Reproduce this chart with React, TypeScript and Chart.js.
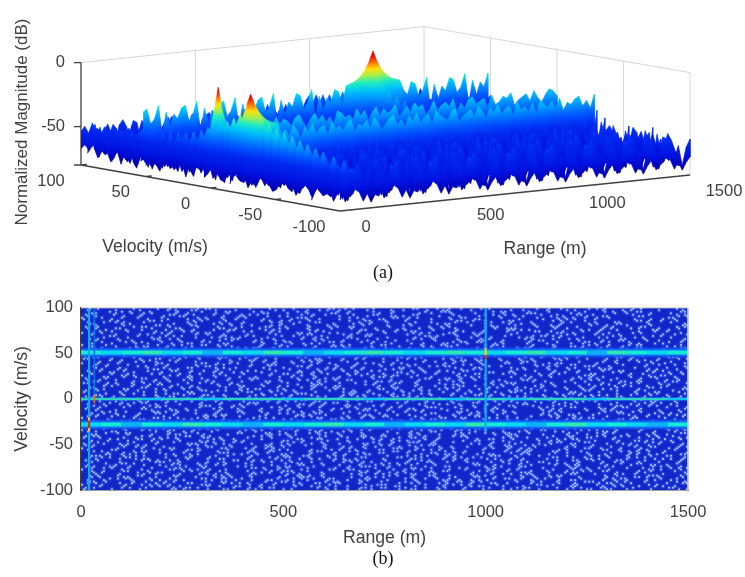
import React, { useEffect, useRef } from "react";
import { Chart, registerables } from "chart.js";

Chart.register(...registerables);

// ---------- (a) surface: values ----------
const rangeTicks = [0, 500, 1000, 1500];
const velocityTicks = [100, 50, 0, -50, -100];
const magnitudeTicks = [0, -50, -80];

const rowVelocity = [100, 95, 90, 85, 80, 75, 70, 65, 60, 56, 54, 52, 50, 48, 45, 40, 34, 28, 22, 16, 10, 5, 2, 0, -2, -5, -10, -15, -20, -24, -26, -28, -30, -32, -36, -42, -48, -54, -60, -66, -72, -78, -84, -92, -100];
const rowLevel = [-48, -48, -48, -48, -48, -48, -48, -48, -47, -45, -37, -26, -37, -45, -47, -47, -48, -48, -48, -48, -48, -47, -45, -30, -45, -47, -48, -48, -47, -47, -40, -30, -40, -47, -47, -48, -48, -48, -48, -48, -48, -48, -48, -48, -48];
const peakAtR1000 = [-44, -43, -42, -41, -39, -37, -35, -33, -29, -20, -12, -1, -12, -20, -26, -30, -33, -36, -38, -40, -43, -45, -46, -46, -47, -48, -50, -52, -54, -56, -58, -58, -60, -100, -100, -100, -100, -100, -100, -100, -100, -100, -100, -100, -100];
const peakAtR17 = [-50, -50, -50, -50, -50, -50, -50, -50, -50, -46, -43, -34, -43, -46, -45, -44, -43, -42, -41, -39, -37, -34, -32, -30, -30, -29, -26, -23, -19, -15, -10, -2, -10, -14, -18, -22, -25, -27, -29, -31, -33, -35, -37, -39, -41];
const peakAtR33 = [-100, -100, -100, -100, -100, -100, -100, -100, -100, -100, -100, -100, -100, -100, -100, -100, -100, -100, -100, -100, -44, -38, -28, -2, -28, -40, -100, -100, -100, -100, -100, -100, -100, -100, -100, -100, -100, -100, -100, -100, -100, -100, -100, -100, -100];
const wideSkirtDrop = [0, 8, 14, 18, 21, 23, 24, 25];
const narrowSkirtDrop = [0, 18, 30];
const topDrop = [0, 2, 4, 6, 8, 10, 12, 15, 18, 24];

// Hand-typed noise estimate, one digit per range sample (spacing 1500/90 m).
const surfaceNoise = [
  "3140627158203946172805316492710583926147035829164073582916403725819460372581946037215894603",
  "5208314769250183746295018372964105837296410583729164058372916405837261940528371649205837164",
  "1736402958163047295816304729581630472958163047195826304719582630471958263047195826304719582",
  "4029173685402917368540291736854029173685412907368451290736845129073684512907368451290736845",
  "2851604937285160493728516049372851604937285160493721850649372185064937218506493721850649372",
  "6193027485619302748561930274856193027485169302748516930274851693027485169302748516930274851",
  "0472916358047291635804729163580472916358074291635807429163580742916358074291635807429163580",
  "3718250694371825069437182506943718250694317825069431782506943178250694317825069431782506943",
  "5920471836592047183659204718365920471836952047183695204718369520471836952047183695204718369",
  "1264083957126408395712640839571264083957216408395721640839572164083957216408395721640839572",
  "4381726059438172605943817260594381726059348172605934817260593481726059348172605934817260593",
  "2175093846217509384621750938462175093846127509384612750938461275093846127509384612750938461",
  "6402817395640281739564028173956402817395460281739546028173954602817395460281739546028173954",
  "0839264715083926471508392647150839264715803926471580392647158039264715803926471580392647158",
  "3591704268359170426835917042683591704268539170426853917042685391704268539170426853917042685",
  "7124860359712486035971248603597124860359172486035917248603591724860359172486035917248603591",
  "2648019375264801937526480193752648019375624801937562480193756248019375624801937562480193756",
  "5073182946507318294650731829465073182946057318294605731829460573182946057318294605731829460",
  "1926470538192647053819264705381926470538912647053891264705389126470538912647053891264705389",
  "4805237169480523716948052371694805237169840523716984052371698405237169840523716984052371698",
  "3160948275316094827531609482753160948275136094827513609482751360948275136094827513609482751",
  "7529016384752901638475290163847529016384572901638457290163845729016384572901638457290163845",
  "0247385196024738519602473851960247385196204738519620473851962047385196204738519620473851962",
  "2413052134021352403124103520314250132403152041320531402153042130524103215043120532140352013",
  "6381492057638149205763814920576381492057368149205736814920573681492057368149205736814920573",
  "1790253864179025386417902538641790253864719025386471902538647190253864719025386471902538647",
  "4052761938405276193840527619384052761938045276193804527619380452761938045276193804527619380",
  "8213069475821306947582130694758213069475281306947528130694752813069475281306947528130694752",
  "3674925018367492501836749250183674925018637492501863749250186374925018637492501863749250186",
  "0518347296051834729605183472960518347296501834729650183472965018347296501834729650183472965",
  "2940516837294051683729405168372940516837924051683792405168379240516837924051683792405168379",
  "1302415023140251304215032410523140253104251304215023410532140251304215032415023140523104250",
  "7163840259716384025971638402597163840259176384025917638402591763840259176384025917638402591",
  "3825071946382507194638250719463825071946832507194683250719468325071946832507194683250719468",
  "6047219358604721935860472193586047219358064721935806472193580647219358064721935806472193580",
  "2591738064259173806425917380642591738064529173806452917380645291738064529173806452917380645",
  "8730462915873046291587304629158730462915783046291578304629157830462915783046291578304629157",
  "4168203759416820375941682037594168203759146820375914682037591468203759146820375914682037591",
  "0396527481039652748103965274810396527481309652748130965274813096527481309652748130965274813",
  "5724916038572491603857249160385724916038752491603875249160387524916038752491603875249160387",
  "2085374169208537416920853741692085374169028537416902853741690285374169028537416902853741690",
  "9413680527941368052794136805279413680527491368052749136805274913680527491368052749136805274",
  "3657209184365720918436572091843657209184635720918463572091846357209184635720918463572091846",
  "1842965037184296503718429650371842965037814296503781429650378142965037814296503781429650378",
  "6270138495627013849562701384956270138495267013849526701384952670138495267013849526701384952",
];

const magnitudeColors: [number, string][] = [
  [-80, "#000068"], [-72, "#0000b8"], [-62, "#0014e4"], [-52, "#0028f0"], [-45, "#0050ff"],
  [-38, "#0088ff"], [-31, "#00c4f8"], [-25, "#20ecc0"], [-20, "#a0f050"], [-15, "#ffe010"], [-10, "#ff7000"], [-5, "#e01000"], [0, "#c00000"],
];

// ---------- (b) heat map ----------
const heatRangeTicks = [0, 500, 1000, 1500];
const bandSamples = [0, 50, 100, 150, 200, 250, 300, 350, 400, 450, 500, 550, 600, 650, 700, 750, 800, 850, 900, 950, 1000, 1050, 1100, 1150, 1200, 1250, 1300, 1350, 1400, 1450, 1500];
const band52Tone = [1, 0, 1, 2, 0, 1, 4, 1, 0, 2, 1, 4, 0, 1, 2, 1, 0, 1, 2, 1, 0, 1, 2, 0, 1, 4, 2, 1, 0, 1, 2];
const bandM28Tone = [0, 1, 4, 1, 0, 2, 1, 0, 4, 1, 0, 1, 2, 0, 1, 4, 0, 1, 0, 2, 1, 0, 4, 1, 2, 0, 1, 0, 4, 1, 0];
const band0Tone = [2, 2, 2, 0, 2, 2, 0, 2, 2, 2, 0, 2, 2, 2, 0, 2, 2, 2, 0, 2, 2, 0, 2, 2, 2, 0, 2, 2, 2, 0, 2];
const stripeV = [100, 60, 56, 48, 44, 5, -20, -24, -32, -36, -100];
const stripe1000Tone = [0, 0, 3, 4, 0, 0, 0, 0, 0];
const stripe20Tone = [0, 0, 0, 0, 0, 0, 3, 4, 3, 0];
const stripeColors = ["#12a8ee", "#12a8ee", "#30e0c0", "#e8d020", "#d03010"];
const bandColors = ["#08d8f0", "#14ecd4", "#30e8b0", "#b0e850", "#10b0f8"];

// Hand-typed speck mask: each hex digit is four cells of the noise field.
const speckRows = [
  "4102840a1048020c4120812905004218a04102",
  "0841201403820410902404c10860120482910c",
  "a0180c4120510842016081020a41880310440a",
  "1244010a88200c10820c4109102048a4210081",
  "08206105010a41208811200c42810414008522",
  "c0410880a2104208051040a1028420182c0408",
  "210a1402401c8024910208410a104c0182030a",
  "04880221260410a00c4820140285100a440890",
  "9200450a10080c2412018a0341020890214104",
  "08140a2081a0420188100c248040a5100a0820",
  "4120c4100d0218410240821405082441081208",
  "028a01241082810c2421000a9120180c412084",
  "1400882c41024018a08102c40a10240821a104",
  "8205124008a11040c8214010820a140248810c",
  "20c04081a20c0214891402a004c0881024120a",
  "0412a4100810a8240c2101844120048a100421",
  "a1020842c12104140a08520c010884210c4083",
  "0848241002c408a12008040a9124201084a210",
  "1120810c4a0012840a24108201c40a10240848",
  "8404120a10480c20118048a104204a0c110208",
  "02a0c4104208018a24051208410a0248c10412",
  "48120180a4120c41020894220c8104210a0884",
  "10c2049021080a40842d01041208820c102460",
  "2408128402c1044a10200c894204108a240112",
  "810a4408201c408208c2110a08402124089143",
  "0422a1104a0204c1082401860a2184084110a0",
  "c00814a20110284a104c0282041a8022140c28",
  "2184020c4118a20401109a042086410c048201",
  "04420a9108024c1081244a02112808c2048418",
  "a2108c04214001822a0c4108048a01241c0284",
  "10c40128420a88104201840c2a410208a14110",
  "084a120480c1204a10082412c00a8421040a22",
  "8401a20c14108421c0a01408428124200c8412",
  "21081440a80241082a12c0480a108414c20108",
  "0a80c21048120a418004220c8a4102108c4124",
  "41240808a1040c2208194402a0108ac010248a",
  "1002c41a00841081a42002c81412088a10c040",
  "884120048a210c40210812c4048a012024080c",
  "024a08a10c420180480c2a10418208c4111204",
  "c410200a49020c1088a104021c8402a0148420",
  "10882c0140a2042184100a4c2208810a24018a",
  "04a10442081c80a2140841082ac01041a2080c",
  "a10820c4108a01022c81440a108204c0a82411",
  "082c4110a4020c8112a404208c0148a1020844",
  "4102880c24104a018024c11208840a1c040a21",
  "a0c4108a020c411208824a1004c8218010a404",
  "10284c0281a41002a80c11420a84102c480182",
  "820a104240c810a1820c4082104a1c0208a440",
  "0c410a820411c0284a1002a18c04120880a41c",
  "4a8102c01048a1240c08128a41020c8401a208",
  "2108a4100c824108c2014a0210a408811c0204",
  "04c2081a41208c01048a2110c0840a21488102",
  "a811024c0820a1408c1204810a2c00418208a4",
  "10480ca21104280c8104a2011c82048a010c24",
  "8204a10c018a42010c4a2810480c12a1048208",
  "412c0810a2408c21040a8811c2042a10840c14",
  "08a1240c81102a4c0810a42108c441028a1022",
  "c4021a088104c20a1480218c4102a80c14120a",
  "1288a40c10421a0408c1048a2010c4812a0410",
  "a04118c2044a10820c8124a0140a1882c04081",
];

const FONT = "'Liberation Sans', Arial, sans-serif";
const TEXT = "#404040";

function project(r: number, v: number, z: number) {
  const u = r / 1500;
  const w = (100 - v) / 200;
  return { x: 81 + 259 * w + (343 + 7 * w) * u, y: 165 + 46 * w - 36 * u - (z + 80) * 1.28 };
}

function surfaceColumn(i: number, j: number) {
  const row = surfaceNoise[i];
  const d = Number(row[j % row.length]);
  let top = rowLevel[i] - topDrop[d];
  const hill = (peak: number, col: number, drops: number[]) => {
    const k = Math.abs(j - col);
    if (peak > -100 && k < drops.length) top = Math.max(top, peak - drops[k]);
  };
  hill(peakAtR1000[i], 60, wideSkirtDrop);
  hill(peakAtR17[i], 1, wideSkirtDrop);
  hill(peakAtR33[i], 2, narrowSkirtDrop);
  return { top, low: Math.min(top - 3, -63 - d * 1.4) };
}

function rowGradient(ctx: CanvasRenderingContext2D, v: number) {
  const a = project(0, v, -80);
  const far = project(1500, v, -80);
  const m = (far.y - a.y) / (far.x - a.x);
  const nl = Math.sqrt(1 + m * m);
  const nx = -m / nl;
  const ny = 1 / nl;
  const rise = -1.28 * 80 * ny;
  const g = ctx.createLinearGradient(a.x, a.y, a.x + nx * rise, a.y + ny * rise);
  magnitudeColors.forEach(([z, c]) => g.addColorStop((z + 80) / 80, c));
  return g;
}

const lineSet = (data: any[], color: any, width: number, extra: any = {}) => ({
  data, borderColor: color, borderWidth: width, showLine: true, pointRadius: 0, fill: false, tension: 0, ...extra,
});

function buildSurfaceChart(canvas: HTMLCanvasElement) {
  const ctx = canvas.getContext("2d")!;
  const paint: any[] = [];
  const walls: any[] = [];
  const seg = (a: any, b: any, list: any[]) => list.push(a, b, { x: NaN, y: NaN });
  seg(project(0, 100, 0), project(1500, 100, 0), walls);
  seg(project(1500, 100, 0), project(1500, -100, 0), walls);
  rangeTicks.slice(1).forEach((r) => seg(project(r, 100, -80), project(r, 100, 0), walls));
  velocityTicks.slice(1).forEach((v) => seg(project(1500, v, -80), project(1500, v, 0), walls));
  paint.push(lineSet(walls, "#d6d6d6", 1));

  const axes: any[] = [];
  seg(project(0, 100, 0), project(0, 100, -80), axes);
  seg(project(0, 100, -80), project(0, -100, -80), axes);
  seg(project(0, -100, -80), project(1500, -100, -80), axes);
  magnitudeTicks.forEach((z) => {
    const p = project(0, 100, z);
    seg(p, { x: p.x - 7, y: p.y }, axes);
  });
  velocityTicks.forEach((v) => seg(project(0, v, -80), project(26, v, -80), axes));
  rangeTicks.forEach((r) => seg(project(r, -100, -80), project(r, -88, -80), axes));
  paint.push(lineSet(axes, TEXT, 1.3));

  rowVelocity.forEach((v, i) => {
    const top: any[] = [];
    const low: any[] = [];
    for (let j = 0; j <= 90; j++) {
      const r = (j * 1500) / 90;
      const c = surfaceColumn(i, j);
      top.push(project(r, v, c.top));
      low.unshift(project(r, v, c.low));
    }
    const g = rowGradient(ctx, v);
    paint.push(lineSet(top.concat(low), g, 0.7, { backgroundColor: g, fill: "shape" }));
  });

  const labels = {
    id: "surfaceLabels",
    afterDraw(chart: any) {
      const c = chart.ctx;
      const sx = chart.scales.x;
      const sy = chart.scales.y;
      const put = (t: string, x: number, y: number) => c.fillText(t, sx.getPixelForValue(x), sy.getPixelForValue(y));
      c.save();
      c.fillStyle = TEXT;
      c.font = `16.5px ${FONT}`;
      c.textBaseline = "middle";
      c.textAlign = "right";
      magnitudeTicks.slice(0, 2).forEach((z) => {
        const p = project(0, 100, z);
        put(String(z), p.x - 16, p.y);
      });
      c.textAlign = "center";
      velocityTicks.forEach((v) => {
        const p = project(0, v, -80);
        put(String(v), p.x + (v === -100 ? -31 : v === 100 ? -30 : -25), p.y + 16);
      });
      rangeTicks.forEach((r) => {
        const p = project(r, -100, -80);
        put(String(r), p.x + (r === 0 ? 26 : 34), p.y + 16);
      });
      c.font = `17.6px ${FONT}`;
      put("Velocity (m/s)", 155, 247);
      put("Range (m)", 545, 249);
      c.font = `17px ${FONT}`;
      c.translate(sx.getPixelForValue(22), sy.getPixelForValue(122));
      c.rotate(-Math.PI / 2);
      c.fillText("Normalized Magnitude (dB)", 0, 0);
      c.restore();
    },
  };

  return new Chart(canvas, {
    type: "scatter",
    data: { datasets: paint.reverse() },
    options: {
      responsive: false,
      animation: false,
      events: [],
      parsing: false as any,
      plugins: { legend: { display: false }, tooltip: { enabled: false } },
      layout: { padding: 0 },
      scales: {
        x: { type: "linear", display: false, min: 0, max: 745 },
        y: { type: "linear", display: false, min: 0, max: 290, reverse: true },
      },
    },
    plugins: [labels],
  } as any);
}

function buildHeatChart(canvas: HTMLCanvasElement) {
  const specks: { x: number; y: number }[] = [];
  const addSpecks = (row: string, i: number, shift: number) => {
    for (let h = 0; h < row.length; h++) {
      const bits = parseInt(row[h], 16);
      for (let b = 0; b < 4; b++) {
        if (bits & (1 << b)) {
          specks.push({
            x: ((h * 4 + b + shift) / (row.length * 4)) * 1500,
            y: 100 - ((i + shift) / speckRows.length) * 200,
          });
        }
      }
    }
  };
  speckRows.forEach((row, i) => {
    addSpecks(row, i, 0.25);
    addSpecks(row.split("").reverse().join(""), i, 0.75);
  });
  const toned = (tone: number[], colors: string[]) => ({
    segment: { borderColor: (c: any) => colors[tone[c.p0DataIndex] ?? 0] },
  });
  const horizontal = (v: number) => bandSamples.map((r) => ({ x: r, y: v }));
  const vertical = (r: number, vs: number[]) => vs.map((v) => ({ x: r, y: v }));
  const paint: any[] = [
    lineSet([{ x: 0, y: -100 }, { x: 1500, y: -100 }, { x: 1500, y: 100 }, { x: 0, y: 100 }], "#1226c8", 0, { backgroundColor: "#1226c8", fill: "shape" }),
    { data: specks, pointRadius: 2.4, pointBackgroundColor: "rgba(50,100,245,0.45)", pointBorderWidth: 0, showLine: false },
    { data: specks, pointRadius: 1.05, pointBackgroundColor: "rgba(205,212,245,0.85)", pointBorderWidth: 0, showLine: false },
  ];
  [51, -28].forEach((v) => {
    paint.push(lineSet(horizontal(v), "rgba(16,80,240,0.85)", 10));
    paint.push(lineSet(horizontal(v), "#1090f8", 6));
  });
  paint.push(lineSet(horizontal(51), "#10e0e0", 3.6, toned(band52Tone, bandColors)));
  paint.push(lineSet(horizontal(-28), "#10e0e0", 3.6, toned(bandM28Tone, bandColors)));
  paint.push(lineSet(horizontal(0), "#2090f8", 3));
  paint.push(lineSet(horizontal(0), "#30e0c0", 1.4, toned(band0Tone, bandColors)));
  paint.push(lineSet(vertical(1000, stripeV.slice(0, 10)), "#12a8ee", 2.2, toned(stripe1000Tone, stripeColors)));
  paint.push(lineSet(vertical(20, stripeV), "#12a8ee", 2.2, toned(stripe20Tone, stripeColors)));
  paint.push(lineSet(vertical(33, [100, 5, 0, -5]), "#1070e8", 1.6, toned([0, 4, 4], ["#1070e8", "", "", "", "#e07020"])));
  paint.push(lineSet([{ x: 0, y: 100 }, { x: 1500, y: 100 }, { x: 1500, y: -100 }], "#c8c8c8", 1, { clip: false }));

  const axisFont = { family: FONT, size: 16.5 };
  return new Chart(canvas, {
    type: "scatter",
    data: { datasets: paint.reverse() },
    options: {
      responsive: false,
      animation: false,
      events: [],
      plugins: { legend: { display: false }, tooltip: { enabled: false } },
      layout: { padding: { top: 17, right: 57, left: 0, bottom: 0 } },
      scales: {
        x: {
          type: "linear",
          min: 0,
          max: 1500,
          afterBuildTicks: (s: any) => { s.ticks = heatRangeTicks.map((value) => ({ value })); },
          afterFit: (s: any) => { s.height = 87; },
          grid: { drawOnChartArea: false, drawTicks: false },
          border: { color: TEXT, width: 1.4 },
          ticks: { color: TEXT, font: axisFont, padding: 13, maxRotation: 0, callback: (v: any) => String(v) },
          title: { display: true, text: "Range (m)", color: TEXT, font: { family: FONT, size: 17.6 }, padding: { top: 0, bottom: 28 } },
        },
        y: {
          type: "linear",
          min: -100,
          max: 100,
          afterBuildTicks: (s: any) => { s.ticks = velocityTicks.map((value) => ({ value })); },
          afterFit: (s: any) => { s.width = 81; },
          grid: { drawOnChartArea: false, drawTicks: false },
          border: { color: TEXT, width: 1.4 },
          ticks: { color: TEXT, font: axisFont, padding: 8, callback: (v: any) => String(v) },
          title: { display: true, text: "Velocity (m/s)", color: TEXT, font: { family: FONT, size: 17.6 }, padding: { top: 12, bottom: 0 } },
        },
      },
    },
  } as any);
}

const captionStyle = (top: number): React.CSSProperties => ({
  position: "absolute", left: 283, width: 200, top, textAlign: "center", lineHeight: "20px",
  font: "18px 'Liberation Serif', 'Times New Roman', serif", color: "#111",
});

export default function App() {
  const top = useRef<HTMLCanvasElement>(null);
  const bottom = useRef<HTMLCanvasElement>(null);
  useEffect(() => {
    const a = buildSurfaceChart(top.current!);
    const b = buildHeatChart(bottom.current!);
    return () => { a.destroy(); b.destroy(); };
  }, []);
  return (
    <div style={{ position: "absolute", left: 0, top: 0, width: 745, height: 577, overflow: "hidden", background: "#fff", filter: "blur(0.6px)" }}>
      <canvas ref={top} width={745} height={290} style={{ position: "absolute", left: 0, top: 0 }} />
      <canvas ref={bottom} width={745} height={287} style={{ position: "absolute", left: 0, top: 290 }} />
      <div style={captionStyle(262)}>(a)</div>
      <div style={captionStyle(548)}>(b)</div>
    </div>
  );
}
